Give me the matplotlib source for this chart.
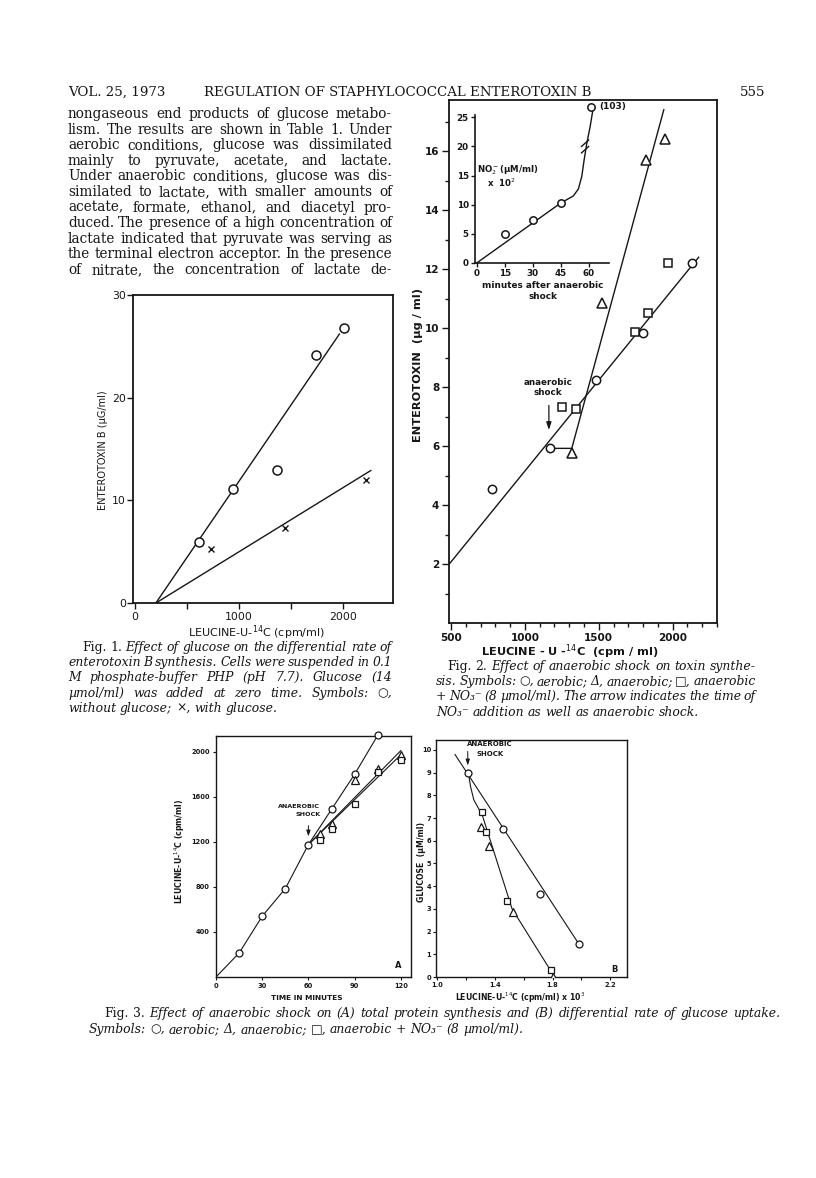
import matplotlib
matplotlib.use('Agg')
import matplotlib.pyplot as plt
import numpy as np
from matplotlib.ticker import FixedLocator, MultipleLocator

# ---------------- data ----------------
# Fig. 1
f1_free_x = [612, 939, 1369, 1737, 2006]
f1_free_y = [5.9, 11.1, 13.0, 24.2, 26.8]
f1_glu_x = [731, 1442, 2218]
f1_glu_y = [5.3, 7.3, 12.0]
f1_fit_free_x = [200, 1965]
f1_fit_free_y = [0.0, 26.2]
f1_fit_glu_x = [200, 2266]
f1_fit_glu_y = [0.0, 12.9]

# Fig. 2
f2_aer_x = [774, 1173, 1484, 1801, 2128]
f2_aer_y = [4.55, 5.92, 8.23, 9.82, 12.21]
f2_ana_x = [1317, 1520, 1817, 1950]
f2_ana_y = [5.77, 10.86, 15.69, 16.4]
f2_nit_x = [1249, 1345, 1745, 1836, 1968]
f2_nit_y = [7.33, 7.25, 9.86, 10.5, 12.21]
f2_fit_aer_x = [488, 2176]
f2_fit_aer_y = [2.0, 12.4]
f2_fit_ana_x = [1173, 1317, 1940]
f2_fit_ana_y = [5.92, 5.92, 17.4]
f2_shock_x = 1162

# Fig. 2 inset (nitrite)
ins_t = [15, 30, 45, 61]
ins_no2 = [5.0, 7.4, 10.3, 103]
ins_curve_t = [0, 45, 51.7, 54.4, 56.2, 57.5, 58.9, 60.7, 62.1]
ins_curve_y = [0, 10.3, 11.5, 12.7, 14.8, 17.7, 20.5, 23.4, 26.1]
INS_OFFSCALE_Y = 26.8
INS_BREAK = (58.0, 20.0)

# Fig. 3A
f3a_t_aer = [15, 30, 45, 60, 75, 90, 105]
f3a_aer = [213, 540, 786, 1177, 1490, 1802, 2148]
f3a_t_ana = [67.5, 75, 90, 105, 120]
f3a_ana = [1268, 1357, 1755, 1852, 1975]
f3a_t_nit = [67.5, 75, 90, 105, 120]
f3a_nit = [1221, 1319, 1535, 1822, 1926]
f3a_fit_ana_t = [60, 120]
f3a_fit_ana = [1177, 2012]
f3a_fit_nit_t = [60, 120]
f3a_fit_nit = [1177, 1975]

# Fig. 3B
f3b_aer_x = [1.217, 1.459, 1.716, 1.983]
f3b_aer_y = [9.0, 6.53, 3.64, 1.45]
f3b_ana_x = [1.305, 1.358, 1.529, 1.80]
f3b_ana_y = [6.59, 5.78, 2.86, 0.0]
f3b_nit_x = [1.31, 1.339, 1.487, 1.787]
f3b_nit_y = [7.28, 6.39, 3.33, 0.31]
f3b_fit_aer_x = [1.125, 1.983]
f3b_fit_aer_y = [9.8, 1.45]
f3b_curve_x = [1.217, 1.232, 1.255, 1.29, 1.31, 1.52, 1.815]
f3b_curve_y = [9.0, 8.4, 7.8, 7.4, 7.2, 3.0, 0.0]

# ---------------- text ----------------
header_left = "VOL. 25, 1973"
header_mid = "REGULATION OF STAPHYLOCOCCAL ENTEROTOXIN B"
header_right = "555"
body_lines = [
    "nongaseous end products of glucose metabo-",
    "lism. The results are shown in Table 1. Under",
    "aerobic conditions, glucose was dissimilated",
    "mainly to pyruvate, acetate, and lactate.",
    "Under anaerobic conditions, glucose was dis-",
    "similated to lactate, with smaller amounts of",
    "acetate, formate, ethanol, and diacetyl pro-",
    "duced. The presence of a high concentration of",
    "lactate indicated that pyruvate was serving as",
    "the terminal electron acceptor. In the presence",
    "of nitrate, the concentration of lactate de-",
]
cap1 = [
    "Fig. 1. Effect of glucose on the differential rate of",
    "enterotoxin B synthesis. Cells were suspended in 0.1",
    "M phosphate-buffer PHP (pH 7.7). Glucose (14",
    "\u00b5mol/ml) was added at zero time. Symbols: \u25cb,",
    "without glucose; \u00d7, with glucose.",
]
cap2 = [
    "Fig. 2. Effect of anaerobic shock on toxin synthe-",
    "sis. Symbols: \u25cb, aerobic; \u0394, anaerobic; \u25a1, anaerobic",
    "+ NO\u2083\u207b (8 \u00b5mol/ml). The arrow indicates the time of",
    "NO\u2083\u207b addition as well as anaerobic shock.",
]
cap3 = [
    "Fig. 3. Effect of anaerobic shock on (A) total protein synthesis and (B) differential rate of glucose uptake.",
    "Symbols: \u25cb, aerobic; \u0394, anaerobic; \u25a1, anaerobic + NO\u2083\u207b (8 \u00b5mol/ml).",
]

# ---------------- setup ----------------
W, H = 816, 1178
INK = '#161616'
plt.rcParams['font.family'] = ['DejaVu Sans']
plt.rcParams['text.color'] = INK
plt.rcParams['axes.edgecolor'] = INK
plt.rcParams['xtick.color'] = INK
plt.rcParams['ytick.color'] = INK
plt.rcParams['axes.labelcolor'] = INK

fig = plt.figure(figsize=(W / 100, H / 100), dpi=100)
fig.patch.set_facecolor('white')
renderer = fig.canvas.get_renderer()
SERIF = ['DejaVu Serif', 'DejaVu Sans']


def fx(x):
    return x / W


def fy(y):
    return 1 - y / H


def rect(l, t, r, b):
    return [l / W, 1 - b / H, (r - l) / W, (b - t) / H]


def text_width(s, **kw):
    t = fig.text(0, 0, s, **kw)
    w = t.get_window_extent(renderer).width
    t.remove()
    return w


def set_line(words, x0, x1, ybase, justify, size, upright=0, italic=False):
    arts = []
    for i, w in enumerate(words):
        style = 'italic' if (italic and i >= upright) else 'normal'
        arts.append(fig.text(0, fy(ybase), w, fontsize=size, family=SERIF,
                             style=style, color=INK, va='baseline', ha='left'))
    widths = [a.get_window_extent(renderer).width for a in arts]
    sp = text_width('a a', fontsize=size, family=SERIF) - text_width('aa', fontsize=size, family=SERIF)
    if justify and len(arts) > 1:
        gap = max((x1 - x0 - sum(widths)) / (len(arts) - 1), 0.4 * sp)
    else:
        gap = sp
    x = x0
    for a, w in zip(arts, widths):
        a.set_x(fx(x))
        x += w + gap


def paragraph(lines, x0, x1, ybase0, dy, size, italic=False, upright_first=0,
              indent=0, last_justified=False, x0_rest=None):
    for i, line in enumerate(lines):
        last = (i == len(lines) - 1) and not last_justified
        if i == 0:
            sx = x0 + indent
        else:
            sx = x0 if x0_rest is None else x0_rest
        set_line(line.split(), sx, x1, ybase0 + i * dy, not last, size,
                 upright=upright_first if i == 0 else 0, italic=italic)


# header + body text
fig.text(fx(68), fy(96), header_left, fontsize=9.6, family=SERIF, va='baseline', ha='left')
fig.text(fx(398), fy(96), header_mid, fontsize=9.6, family=SERIF, va='baseline', ha='center')
fig.text(fx(765), fy(96), header_right, fontsize=9.6, family=SERIF, va='baseline', ha='right')
paragraph(body_lines, 68, 392, 118, 15.6, 9.8, last_justified=True)

# captions
paragraph(cap1, 68, 392, 651, 15.2, 8.9, italic=True, upright_first=2, indent=14)
paragraph(cap2, 436, 756, 670, 15.2, 8.9, italic=True, upright_first=2, indent=11)
paragraph(cap3, 104, 780, 1017, 16.0, 8.9, italic=True, upright_first=2, indent=0, x0_rest=89)


def style_ax(ax, lw=1.2):
    for s in ax.spines.values():
        s.set_linewidth(lw)
        s.set_color(INK)
    ax.set_facecolor('none')


def open_marker(ax, x, y, m, ms, mew=1.1, **kw):
    ax.plot(x, y, linestyle='none', marker=m, ms=ms, mfc='white', mec=INK, mew=mew, zorder=5, **kw)

# ---------------- Fig. 1 ----------------
ax1 = fig.add_axes(rect(133, 295, 393, 603))
style_ax(ax1, 1.3)
ax1.set_xlim(-20, 2480)
ax1.set_ylim(0, 30)
ax1.plot(f1_fit_free_x, f1_fit_free_y, color=INK, lw=1.0)
ax1.plot(f1_fit_glu_x, f1_fit_glu_y, color=INK, lw=1.0)
open_marker(ax1, f1_free_x, f1_free_y, 'o', 6.5)
ax1.plot(f1_glu_x, f1_glu_y, linestyle='none', marker='x', ms=4.2, mec=INK, mew=1.0, zorder=5)
ax1.xaxis.set_major_locator(FixedLocator([0, 1000, 2000]))
ax1.xaxis.set_minor_locator(FixedLocator([500, 1500]))
ax1.yaxis.set_major_locator(FixedLocator([0, 10, 20, 30]))
ax1.tick_params(axis='both', which='both', direction='out', width=1.0)
ax1.tick_params(axis='x', which='major', length=4, pad=2.5, labelsize=7.8)
ax1.tick_params(axis='x', which='minor', length=4)
ax1.tick_params(axis='y', which='major', length=4, pad=1.0, labelsize=7.8)
fig.text(fx(257), fy(633), r'LEUCINE-U-$^{14}$C (cpm/ml)', fontsize=8, ha='center', va='center')
fig.text(fx(103), fy(450), 'ENTEROTOXIN B (\u00b5G/ml)', fontsize=7.0, rotation=90, ha='center', va='center')

# ---------------- Fig. 2 ----------------
ax2 = fig.add_axes(rect(449, 100, 717, 623))
style_ax(ax2, 1.3)
ax2.set_xlim(486, 2300)
ax2.set_ylim(0, 17.73)
ax2.plot(f2_fit_aer_x, f2_fit_aer_y, color=INK, lw=1.0)
ax2.plot(f2_fit_ana_x, f2_fit_ana_y, color=INK, lw=1.0)
open_marker(ax2, f2_aer_x, f2_aer_y, 'o', 6.0)
open_marker(ax2, f2_ana_x, f2_ana_y, '^', 7.2)
open_marker(ax2, f2_nit_x, f2_nit_y, 's', 5.5)
ax2.xaxis.set_major_locator(FixedLocator([500, 1000, 1500, 2000]))
ax2.xaxis.set_minor_locator(MultipleLocator(100))
ax2.yaxis.set_major_locator(FixedLocator([2, 4, 6, 8, 10, 12, 14, 16]))
ax2.yaxis.set_minor_locator(FixedLocator([1, 3, 5, 7, 9, 11, 13, 15, 17]))
ax2.tick_params(axis='both', which='both', direction='out', width=1.0)
ax2.tick_params(axis='both', which='major', length=5, labelsize=7.5)
ax2.tick_params(axis='x', which='major', pad=2)
ax2.tick_params(axis='y', which='major', pad=2)
ax2.tick_params(axis='both', which='minor', length=3)
for lab in ax2.get_xticklabels() + ax2.get_yticklabels():
    lab.set_fontweight('bold')
ax2.annotate('', xy=(f2_shock_x, 6.45), xytext=(f2_shock_x, 7.47),
             arrowprops=dict(arrowstyle='-|>,head_length=0.45,head_width=0.15', color=INK, lw=0.9))
ax2.text(f2_shock_x - 8, 8.15, 'anaerobic', fontsize=6.3, fontweight='bold', ha='center', va='center')
ax2.text(f2_shock_x - 8, 7.81, 'shock', fontsize=6.3, fontweight='bold', ha='center', va='center')
fig.text(fx(570), fy(652), r'LEUCINE - U -$^{14}$C  (cpm / ml)', fontsize=8.2, fontweight='bold',
         ha='center', va='center')
fig.text(fx(418), fy(365), 'ENTEROTOXIN  (\u00b5g / ml)', fontsize=8.2, fontweight='bold', rotation=90,
         ha='center', va='center')

# inset
axi = fig.add_axes(rect(475, 115, 609, 263))
style_ax(axi, 1.2)
axi.spines['top'].set_visible(False)
axi.spines['right'].set_visible(False)
axi.set_xlim(-0.9, 70.8)
axi.set_ylim(0, 25.4)
axi.plot(ins_curve_t, ins_curve_y, color=INK, lw=1.0, clip_on=False)
ins_plot_y = [v if v < 25 else INS_OFFSCALE_Y for v in ins_no2]
open_marker(axi, ins_t, ins_plot_y, 'o', 5.3, clip_on=False)
bx, by = INS_BREAK
for dyb in (-0.55, 0.55):
    axi.plot([bx - 1.9, bx + 1.9], [by + dyb - 0.55, by + dyb + 0.55], color=INK, lw=1.0, clip_on=False)
axi.text(ins_t[-1] + 4.5, INS_OFFSCALE_Y, '(%d)' % ins_no2[-1], fontsize=6.5, fontweight='bold',
         ha='left', va='center', clip_on=False)
axi.xaxis.set_major_locator(FixedLocator([0, 15, 30, 45, 60]))
axi.yaxis.set_major_locator(FixedLocator([0, 5, 10, 15, 20, 25]))
axi.tick_params(axis='both', which='major', direction='out', length=3, width=1.0, labelsize=6.3, pad=1.5)
for lab in axi.get_xticklabels() + axi.get_yticklabels():
    lab.set_fontweight('bold')
axi.text(16.5, 15.9, 'NO$_2^-$(\u00b5M/ml)', fontsize=6.2, fontweight='bold', ha='center', va='center')
axi.text(13, 13.7, 'x  10$^2$', fontsize=6.2, fontweight='bold', ha='center', va='center')
fig.text(fx(543), fy(285), 'minutes after anaerobic', fontsize=6.4, fontweight='bold', ha='center', va='center')
fig.text(fx(543), fy(296.5), 'shock', fontsize=6.4, fontweight='bold', ha='center', va='center')

# ---------------- Fig. 3A ----------------
ax3 = fig.add_axes(rect(216, 736, 411, 977))
style_ax(ax3, 1.0)
ax3.set_xlim(0, 126.6)
ax3.set_ylim(0, 2142)
ax3.plot(np.r_[0, f3a_t_aer], np.r_[0, f3a_aer], color=INK, lw=0.8)
ax3.plot(f3a_fit_ana_t, f3a_fit_ana, color=INK, lw=0.8)
ax3.plot(f3a_fit_nit_t, f3a_fit_nit, color=INK, lw=0.8)
open_marker(ax3, f3a_t_aer, f3a_aer, 'o', 5.0, mew=0.9, clip_on=False)
open_marker(ax3, f3a_t_ana, f3a_ana, '^', 5.3, mew=0.9)
open_marker(ax3, f3a_t_nit, f3a_nit, 's', 4.2, mew=0.9)
ax3.xaxis.set_major_locator(FixedLocator([0, 30, 60, 90, 120]))
ax3.yaxis.set_major_locator(FixedLocator([400, 800, 1200, 1600, 2000]))
ax3.tick_params(axis='both', which='major', direction='out', length=2.5, width=0.8, labelsize=4.8, pad=2)
for lab in ax3.get_xticklabels() + ax3.get_yticklabels():
    lab.set_fontweight('bold')
ax3.annotate('', xy=(60, 1225), xytext=(60, 1369),
             arrowprops=dict(arrowstyle='-|>,head_length=0.35,head_width=0.12', color=INK, lw=0.7))
ax3.text(54.1, 1514, 'ANAEROBIC', fontsize=4.6, fontweight='bold', ha='center', va='center')
ax3.text(59.9, 1440, 'SHOCK', fontsize=4.6, fontweight='bold', ha='center', va='center')
ax3.text(118.4, 60, 'A', fontsize=6, fontweight='bold', ha='center', va='bottom')
fig.text(fx(306.7), fy(998), 'TIME IN MINUTES', fontsize=5.3, fontweight='bold', ha='center', va='center')
fig.text(fx(180), fy(851), r'LEUCINE-U-$^{14}$C (cpm/ml)', fontsize=5.6, fontweight='bold', rotation=90,
         ha='center', va='center')

# ---------------- Fig. 3B ----------------
ax4 = fig.add_axes(rect(436, 740, 627, 977))
style_ax(ax4, 1.0)
ax4.set_xlim(0.993, 2.316)
ax4.set_ylim(0, 10.44)
ax4.plot(f3b_fit_aer_x, f3b_fit_aer_y, color=INK, lw=0.8)
ax4.plot(f3b_curve_x, f3b_curve_y, color=INK, lw=0.8)
open_marker(ax4, f3b_aer_x, f3b_aer_y, 'o', 5.0, mew=0.9)
open_marker(ax4, f3b_ana_x, f3b_ana_y, '^', 5.3, mew=0.9)
open_marker(ax4, f3b_nit_x, f3b_nit_y, 's', 4.2, mew=0.9)
ax4.xaxis.set_major_locator(FixedLocator([1.0, 1.4, 1.8, 2.2]))
ax4.xaxis.set_minor_locator(FixedLocator([1.2, 1.6, 2.0]))
ax4.set_xticklabels(['1.0', '1.4', '1.8', '2.2'])
ax4.yaxis.set_major_locator(FixedLocator(list(range(0, 11))))
ax4.tick_params(axis='both', which='both', direction='out', length=2.2, width=0.8, labelsize=4.8, pad=1.2)
for lab in ax4.get_xticklabels() + ax4.get_yticklabels():
    lab.set_fontweight('bold')
ax4.annotate('', xy=(1.213, 9.2), xytext=(1.213, 10.06),
             arrowprops=dict(arrowstyle='-|>,head_length=0.35,head_width=0.12', color=INK, lw=0.7))
ax4.text(1.367, 10.26, 'ANAEROBIC', fontsize=5.0, fontweight='bold', ha='center', va='center')
ax4.text(1.367, 9.82, 'SHOCK', fontsize=5.0, fontweight='bold', ha='center', va='center')
ax4.text(2.226, 0.15, 'B', fontsize=6, fontweight='bold', ha='center', va='bottom')
fig.text(fx(520), fy(998), r'LEUCINE-U-$^{14}$C (cpm/ml) x 10$^3$', fontsize=5.6, fontweight='bold',
         ha='center', va='center')
fig.text(fx(421), fy(862), 'GLUCOSE  (\u00b5M/ml)', fontsize=5.6, fontweight='bold', rotation=90,
         ha='center', va='center')

fig.savefig('out.png', dpi=100, facecolor='white')
